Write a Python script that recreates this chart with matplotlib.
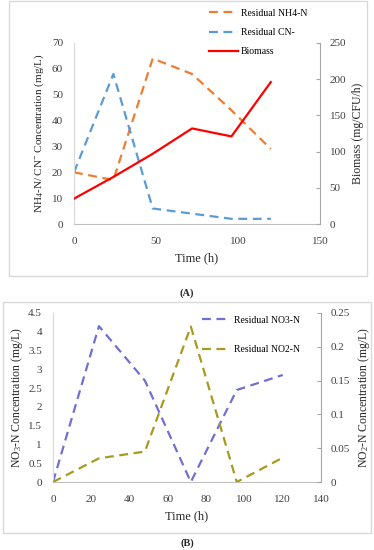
import matplotlib
matplotlib.use("Agg")
import matplotlib.pyplot as plt
from matplotlib.patches import Rectangle

plt.rcParams["font.family"] = ["Liberation Serif", "DejaVu Serif"]
plt.rcParams["mathtext.fontset"] = "custom"
plt.rcParams["mathtext.rm"] = "Liberation Serif"
plt.rcParams["mathtext.it"] = "Liberation Serif:italic"

# ---- data (A) ----
time_a = [0, 24, 48, 72, 96, 120]
nh4 = [20, 17, 64, 58, 44, 29]
cn = [20, 58, 6, 4, 2, 2]
biomass = [35, 65, 97, 132, 121, 196]
xticks_a = [0, 50, 100, 150]

# ---- data (B) ----
time_b = [0, 24, 48, 72, 96, 120]
no3 = [0, 4.15, 2.7, 0, 2.45, 2.85]
no2 = [0, 0.035, 0.045, 0.23, 0, 0.036]
xticks_b = [0, 20, 40, 60, 80, 100, 120, 140]

W, H = 374, 550
fig = plt.figure(figsize=(W / 100, H / 100), dpi=100)


def fx(px):
    return px / W


def fy(py):
    return 1 - py / H


def axes_px(l, t, r, b):
    return fig.add_axes([fx(l), fy(b), fx(r) - fx(l), fy(t) - fy(b)])


def frame(l, t, r, b):
    fig.patches.append(Rectangle((fx(l), fy(b)), fx(r) - fx(l), fy(t) - fy(b),
                                 transform=fig.transFigure, fill=False,
                                 edgecolor="#d9d9d9", linewidth=1.0))


def style(ax, ax2):
    for a in (ax, ax2):
        a.spines["top"].set_visible(False)
        a.tick_params(labelsize=8, colors="#404040")
    ax.spines["left"].set_color("#d9d9d9")
    ax.spines["bottom"].set_color("#bfbfbf")
    ax.spines["right"].set_visible(False)
    ax2.spines["left"].set_visible(False)
    ax2.spines["bottom"].set_visible(False)
    ax2.spines["right"].set_color("#a6a6a6")
    ax.tick_params(axis="y", length=0, pad=8)
    ax.tick_params(axis="x", length=0, pad=9)
    ax2.tick_params(axis="y", length=3, direction="in", pad=7, color="#a6a6a6")


dash = (0, (4, 2.5))
tc = "#262626"

# ---------------- panel A ----------------
frame(9, 1, 367, 276)
ax = axes_px(74, 43, 320, 224)
ax2 = ax.twinx()
l1, = ax.plot(time_a, nh4, color="#ED7D31", lw=1.6, linestyle=dash, label="Residual NH4-N")
l2, = ax.plot(time_a, cn, color="#5B9BD5", lw=1.6, linestyle=dash, label="Residual CN-")
l3, = ax2.plot(time_a, biomass, color="#FF0000", lw=1.6, label="Biomass")
ax.set_xlim(0, 150)
ax.set_ylim(0, 70)
ax2.set_ylim(0, 250)
ax.set_xticks(xticks_a)
ax.set_yticks(range(0, 71, 10))
ax2.set_yticks(range(0, 251, 50))
style(ax, ax2)
ax.set_xlabel("Time (h)", fontsize=9, color=tc, labelpad=5)
ax.set_ylabel("NH$_4$-N/ CN$^{-}$ Concentration (mg/L)", fontsize=8, color=tc, labelpad=4)
ax2.set_ylabel("Biomass (mg/CFU/h)", fontsize=8.5, color=tc, labelpad=4)
fig.legend(handles=[l1, l2, l3], loc="upper left",
           bbox_to_anchor=(fx(205), fy(5)), frameon=False, fontsize=7,
           handlelength=3.0, handletextpad=0.3, labelspacing=1.05,
           borderaxespad=0)
fig.text(fx(187), fy(293), "(A)", ha="center", va="center", fontsize=7.5,
         fontweight="bold", color=tc)

# ---------------- panel B ----------------
frame(3, 302, 371, 533)
bx = axes_px(53, 313, 321, 482)
bx2 = bx.twinx()
m1, = bx.plot(time_b, no3, color="#7070D4", lw=1.6, linestyle=dash, label="Residual NO3-N")
m2, = bx2.plot(time_b, no2, color="#A89A1E", lw=1.6, linestyle=dash, label="Residual NO2-N")
bx.set_xlim(0, 140)
bx.set_ylim(0, 4.5)
bx2.set_ylim(0, 0.25)
bx.set_xticks(xticks_b)
bx.set_yticks([0, 0.5, 1, 1.5, 2, 2.5, 3, 3.5, 4, 4.5])
bx.set_yticklabels(["0", "0.5", "1", "1.5", "2", "2.5", "3", "3.5", "4", "4.5"])
bx2.set_yticks([0, 0.05, 0.1, 0.15, 0.2, 0.25])
bx2.set_yticklabels(["0", "0.05", "0.1", "0.15", "0.2", "0.25"])
style(bx, bx2)
bx.set_xlabel("Time (h)", fontsize=9, color=tc, labelpad=5)
bx.set_ylabel("NO$_3$-N Concentration (mg/L)", fontsize=8.5, color=tc, labelpad=2)
bx2.set_ylabel("NO$_2$-N Concentration (mg/L)", fontsize=8.5, color=tc, labelpad=4)
fig.legend(handles=[m1, m2], loc="upper left",
           bbox_to_anchor=(fx(198), fy(312)), frameon=False, fontsize=7,
           handlelength=3.0, handletextpad=0.3, labelspacing=2.1,
           borderaxespad=0)
fig.text(fx(187), fy(543), "(B)", ha="center", va="center", fontsize=7.5,
         fontweight="bold", color=tc)

fig.savefig("out.png", dpi=100, facecolor="white")
